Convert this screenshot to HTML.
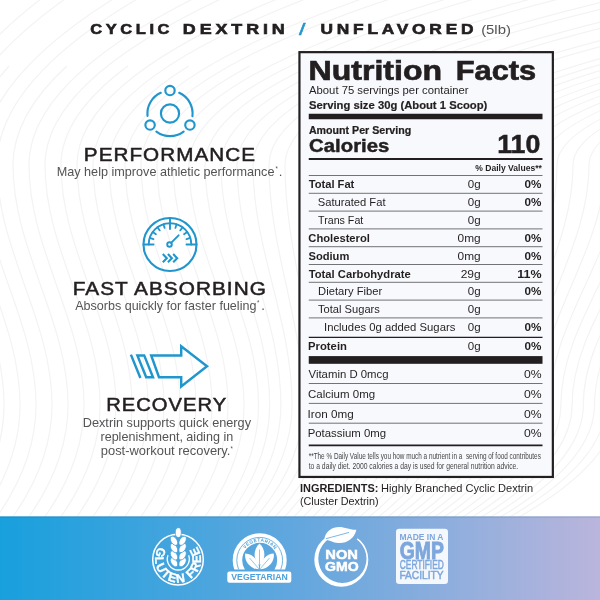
<!DOCTYPE html>
<html lang="en">
<head>
<meta charset="utf-8">
<title>Cyclic Dextrin / Unflavored (5lb)</title>
<style>
html,body{margin:0;padding:0;background:#fff;}
body{width:600px;height:600px;overflow:hidden;position:relative;font-family:"Liberation Sans",sans-serif;}
svg{position:absolute;left:0;top:0;display:block;}
text{font-family:"Liberation Sans",sans-serif;white-space:pre;}
</style>
</head>
<body>
<svg width="600" height="600" viewBox="0 0 600 600">
<defs>
<linearGradient id="band" x1="0" y1="0" x2="1" y2="0">
<stop offset="0" stop-color="#18a0dd"/>
<stop offset="0.5" stop-color="#63a7de"/>
<stop offset="1" stop-color="#bab5dc"/>
</linearGradient>
</defs>
<!-- background pattern -->
<g fill="none" stroke="#f3f3f4" stroke-width="1.2">
<path d="M-612.8 -16.5Q-643.0 74.2 -643.0 165C-643.0 250 -588.0 320 -588.0 405Q-588.0 465 -633.0 525"/>
<path d="M-596.8 -16.5Q-627.0 74.2 -627.0 165C-627.0 250 -572.0 320 -572.0 405Q-572.0 465 -617.0 525"/>
<path d="M-602.0 66.0Q-611.0 115.5 -611.0 165C-611.0 250 -556.0 320 -556.0 405Q-556.0 465 -601.0 525"/>
<path d="M-564.8 -16.5Q-595.0 74.2 -595.0 165C-595.0 250 -540.0 320 -540.0 405Q-540.0 465 -585.0 525"/>
<path d="M-548.8 -16.5Q-579.0 74.2 -579.0 165C-579.0 250 -524.0 320 -524.0 405Q-524.0 465 -569.0 525"/>
<path d="M-554.0 66.0Q-563.0 115.5 -563.0 165C-563.0 250 -508.0 320 -508.0 405Q-508.0 465 -553.0 525"/>
<path d="M-516.8 -16.5Q-547.0 74.2 -547.0 165C-547.0 250 -492.0 320 -492.0 405Q-492.0 465 -537.0 525"/>
<path d="M-500.8 -16.5Q-531.0 74.2 -531.0 165C-531.0 250 -476.0 320 -476.0 405Q-476.0 465 -521.0 525"/>
<path d="M-506.0 66.0Q-515.0 115.5 -515.0 165C-515.0 250 -460.0 320 -460.0 405Q-460.0 465 -505.0 525"/>
<path d="M-468.8 -16.5Q-499.0 74.2 -499.0 165C-499.0 250 -444.0 320 -444.0 405Q-444.0 465 -489.0 525"/>
<path d="M-452.8 -16.5Q-483.0 74.2 -483.0 165C-483.0 250 -428.0 320 -428.0 405Q-428.0 465 -473.0 525"/>
<path d="M-458.0 66.0Q-467.0 115.5 -467.0 165C-467.0 250 -412.0 320 -412.0 405Q-412.0 465 -457.0 525"/>
<path d="M-420.8 -16.5Q-451.0 74.2 -451.0 165C-451.0 250 -396.0 320 -396.0 405Q-396.0 465 -441.0 525"/>
<path d="M-404.8 -16.5Q-435.0 74.2 -435.0 165C-435.0 250 -380.0 320 -380.0 405Q-380.0 465 -425.0 525"/>
<path d="M-410.0 66.0Q-419.0 115.5 -419.0 165C-419.0 250 -364.0 320 -364.0 405Q-364.0 465 -409.0 525"/>
<path d="M-372.8 -16.5Q-403.0 74.2 -403.0 165C-403.0 250 -348.0 320 -348.0 405Q-348.0 465 -393.0 525"/>
<path d="M-356.8 -16.5Q-387.0 74.2 -387.0 165C-387.0 250 -332.0 320 -332.0 405Q-332.0 465 -377.0 525"/>
<path d="M-362.0 66.0Q-371.0 115.5 -371.0 165C-371.0 250 -316.0 320 -316.0 405Q-316.0 465 -361.0 525"/>
<path d="M-324.8 -16.5Q-355.0 74.2 -355.0 165C-355.0 250 -300.0 320 -300.0 405Q-300.0 465 -345.0 525"/>
<path d="M-308.8 -16.5Q-339.0 74.2 -339.0 165C-339.0 250 -284.0 320 -284.0 405Q-284.0 465 -329.0 525"/>
<path d="M-314.0 66.0Q-323.0 115.5 -323.0 165C-323.0 250 -268.0 320 -268.0 405Q-268.0 465 -313.0 525"/>
<path d="M-276.8 -16.5Q-307.0 74.2 -307.0 165C-307.0 250 -252.0 320 -252.0 405Q-252.0 465 -297.0 525"/>
<path d="M-260.8 -16.5Q-291.0 74.2 -291.0 165C-291.0 250 -236.0 320 -236.0 405Q-236.0 465 -281.0 525"/>
<path d="M-266.0 66.0Q-275.0 115.5 -275.0 165C-275.0 250 -220.0 320 -220.0 405Q-220.0 465 -265.0 525"/>
<path d="M-228.8 -16.5Q-259.0 74.2 -259.0 165C-259.0 250 -204.0 320 -204.0 405Q-204.0 465 -249.0 525"/>
<path d="M-212.8 -16.5Q-243.0 74.2 -243.0 165C-243.0 250 -188.0 320 -188.0 405Q-188.0 465 -233.0 525"/>
<path d="M-217.5 66.0Q-227.0 115.5 -227.0 165C-227.0 250 -172.0 320 -172.0 405Q-172.0 465 -217.0 525"/>
<path d="M-169.3 -16.5Q-211.0 74.2 -211.0 165C-211.0 250 -156.0 320 -156.0 405Q-156.0 465 -201.0 525"/>
<path d="M-143.6 -16.5Q-195.0 74.2 -195.0 165C-195.0 250 -140.0 320 -140.0 405Q-140.0 465 -185.0 525"/>
<path d="M-160.8 66.0Q-179.0 115.5 -179.0 165C-179.0 250 -124.0 320 -124.0 405Q-124.0 465 -169.0 525"/>
<path d="M-92.2 -16.5Q-163.0 74.2 -163.0 165C-163.0 250 -108.0 320 -108.0 405Q-108.0 465 -153.0 525"/>
<path d="M-66.5 -16.5Q-147.0 74.2 -147.0 165C-147.0 250 -92.0 320 -92.0 405Q-92.0 465 -137.0 525"/>
<path d="M-104.2 66.0Q-131.0 115.5 -131.0 165C-131.0 250 -76.0 320 -76.0 405Q-76.0 465 -121.0 525"/>
<path d="M-15.2 -16.5Q-115.0 74.2 -115.0 165C-115.0 250 -60.0 320 -60.0 405Q-60.0 465 -105.0 525"/>
<path d="M10.5 -16.5Q-99.0 74.2 -99.0 165C-99.0 250 -44.0 320 -44.0 405Q-44.0 465 -89.0 525"/>
<path d="M-47.5 66.0Q-83.0 115.5 -83.0 165C-83.0 250 -28.0 320 -28.0 405Q-28.0 465 -73.0 525"/>
<path d="M61.9 -16.5Q-67.0 74.2 -67.0 165C-67.0 250 -12.0 320 -12.0 405Q-12.0 465 -57.0 525"/>
<path d="M87.5 -16.5Q-51.0 74.2 -51.0 165C-51.0 250 4.0 320 4.0 405Q4.0 465 -41.0 525"/>
<path d="M9.1 66.0Q-35.0 115.5 -35.0 165C-35.0 250 20.0 320 20.0 405Q20.0 465 -25.0 525"/>
<path d="M138.9 -16.5Q-19.0 74.2 -19.0 165C-19.0 250 36.0 320 36.0 405Q36.0 465 -9.0 525"/>
<path d="M164.6 -16.5Q-3.0 74.2 -3.0 165C-3.0 250 52.0 320 52.0 405Q52.0 465 7.0 525"/>
<path d="M66.9 66.0Q13.0 115.5 13.0 165C13.0 250 68.0 320 68.0 405Q68.0 465 23.0 525"/>
<path d="M224.7 -16.5Q29.0 74.2 29.0 165C29.0 250 84.0 320 84.0 405Q84.0 465 39.0 525"/>
<path d="M255.2 -16.5Q45.0 74.2 45.0 165C45.0 250 100.0 320 100.0 405Q100.0 465 55.0 525"/>
<path d="M127.9 66.0Q61.0 115.5 61.0 165C61.0 250 116.0 320 116.0 405Q116.0 465 71.0 525"/>
<path d="M316.3 -16.5Q77.0 74.2 77.0 165C77.0 250 132.0 320 132.0 405Q132.0 465 87.0 525"/>
<path d="M346.8 -16.5Q93.0 74.2 93.0 165C93.0 250 148.0 320 148.0 405Q148.0 465 103.0 525"/>
<path d="M188.8 66.0Q109.0 115.5 109.0 165C109.0 250 164.0 320 164.0 405Q164.0 465 119.0 525"/>
<path d="M407.8 -16.5Q125.0 74.2 125.0 165C125.0 250 180.0 320 180.0 405Q180.0 465 135.0 525"/>
<path d="M438.4 -16.5Q141.0 74.2 141.0 165C141.0 250 196.0 320 196.0 405Q196.0 465 151.0 525"/>
<path d="M249.8 66.0Q157.0 115.5 157.0 165C157.0 250 212.0 320 212.0 405Q212.0 465 167.0 525"/>
<path d="M499.4 -16.5Q173.0 74.2 173.0 165C173.0 250 228.0 320 228.0 405Q228.0 465 183.0 525"/>
<path d="M529.9 -16.5Q189.0 74.2 189.0 165C189.0 250 244.0 320 244.0 405Q244.0 465 199.0 525"/>
<path d="M310.8 66.0Q205.0 115.5 205.0 165C205.0 250 258.5 320 258.5 405Q258.5 465 212.8 525"/>
<path d="M591.0 -16.5Q221.0 74.2 221.0 165C221.0 250 269.7 320 269.7 405Q269.7 465 222.0 525"/>
<path d="M621.5 -16.5Q237.0 74.2 237.0 165C237.0 250 280.9 320 280.9 405Q280.9 465 231.1 525"/>
<path d="M371.7 66.0Q253.0 115.5 253.0 165C253.0 250 292.1 320 292.1 405Q292.1 465 240.2 525"/>
<path d="M682.5 -16.5Q269.0 74.2 269.0 165C269.0 250 303.3 320 303.3 405Q303.3 465 249.3 525"/>
<path d="M713.0 -16.5Q285.0 74.2 285.0 165C285.0 250 314.5 320 314.5 405Q314.5 465 258.4 525"/>
<path d="M432.7 66.0Q301.0 115.5 301.0 165C301.0 250 325.7 320 325.7 405Q325.7 465 267.6 525"/>
<path d="M774.1 -16.5Q317.0 74.2 317.0 165C317.0 250 336.9 320 336.9 405Q336.9 465 276.7 525"/>
<path d="M804.6 -16.5Q333.0 74.2 333.0 165C333.0 250 348.1 320 348.1 405Q348.1 465 285.8 525"/>
<path d="M493.6 66.0Q349.0 115.5 349.0 165C349.0 250 359.3 320 359.3 405Q359.3 465 294.9 525"/>
<path d="M865.6 -16.5Q365.0 74.2 365.0 165C365.0 250 370.5 320 370.5 405Q370.5 465 304.1 525"/>
<path d="M896.2 -16.5Q381.0 74.2 381.0 165C381.0 250 381.7 320 381.7 405Q381.7 465 313.2 525"/>
<path d="M554.6 66.0Q397.0 115.5 397.0 165C397.0 250 392.9 320 392.9 405Q392.9 465 322.3 525"/>
<path d="M957.2 -16.5Q413.0 74.2 413.0 165C413.0 250 404.1 320 404.1 405Q404.1 465 331.4 525"/>
<path d="M987.7 -16.5Q429.0 74.2 429.0 165C429.0 250 415.3 320 415.3 405Q415.3 465 340.5 525"/>
<path d="M615.5 66.0Q445.0 115.5 445.0 165C445.0 250 426.5 320 426.5 405Q426.5 465 349.6 525"/>
<path d="M1048.8 -16.5Q461.0 74.2 461.0 165C461.0 250 437.7 320 437.7 405Q437.7 465 358.8 525"/>
<path d="M1079.3 -16.5Q477.0 74.2 477.0 165C477.0 250 448.9 320 448.9 405Q448.9 465 367.9 525"/>
<path d="M676.5 66.0Q493.0 115.5 493.0 165C493.0 250 460.1 320 460.1 405Q460.1 465 377.0 525"/>
<path d="M1140.3 -16.5Q509.0 74.2 509.0 165C509.0 250 471.3 320 471.3 405Q471.3 465 386.1 525"/>
<path d="M1170.8 -16.5Q525.0 74.2 525.0 165C525.0 250 482.5 320 482.5 405Q482.5 465 395.2 525"/>
<path d="M737.5 66.0Q541.0 115.5 541.0 165C541.0 250 493.7 320 493.7 405Q493.7 465 404.4 525"/>
<path d="M1231.9 -16.5Q557.0 74.2 557.0 165C557.0 250 504.9 320 504.9 405Q504.9 465 413.5 525"/>
<path d="M1262.4 -16.5Q573.0 74.2 573.0 165C573.0 250 516.1 320 516.1 405Q516.1 465 422.6 525"/>
<path d="M798.4 66.0Q589.0 115.5 589.0 165C589.0 250 527.3 320 527.3 405Q527.3 465 431.7 525"/>
<path d="M1323.4 -16.5Q605.0 74.2 605.0 165C605.0 250 538.5 320 538.5 405Q538.5 465 440.9 525"/>
<path d="M1354.0 -16.5Q621.0 74.2 621.0 165C621.0 250 549.7 320 549.7 405Q549.7 465 450.0 525"/>
<path d="M859.4 66.0Q637.0 115.5 637.0 165C637.0 250 560.9 320 560.9 405Q560.9 465 459.1 525"/>
<path d="M1415.0 -16.5Q653.0 74.2 653.0 165C653.0 250 572.1 320 572.1 405Q572.1 465 468.2 525"/>
<path d="M1445.5 -16.5Q669.0 74.2 669.0 165C669.0 250 583.3 320 583.3 405Q583.3 465 477.3 525"/>
<path d="M920.4 66.0Q685.0 115.5 685.0 165C685.0 250 594.5 320 594.5 405Q594.5 465 486.4 525"/>
<path d="M1506.6 -16.5Q701.0 74.2 701.0 165C701.0 250 605.7 320 605.7 405Q605.7 465 495.6 525"/>
<path d="M1537.1 -16.5Q717.0 74.2 717.0 165C717.0 250 616.9 320 616.9 405Q616.9 465 504.7 525"/>
</g>

<!-- bottom band -->
<rect x="0" y="516.4" width="600" height="84" fill="url(#band)"/>
<rect x="0" y="516.4" width="600" height="1.1" fill="#0a4f80" opacity="0.22"/>
<!-- nutrition panel -->
<rect x="299.45" y="52.15" width="253.4" height="424.8" fill="#f8f9fc" stroke="#231f20" stroke-width="2.2"/>
<g fill="#231f20">
<rect x="308.75" y="113.75" width="233.75" height="5.5"/>
<rect x="308.75" y="158" width="233.75" height="2"/>
<rect x="308.75" y="356.1" width="233.75" height="7.7"/>
<rect x="308.75" y="444.5" width="233.75" height="1.75"/>
</g>
<g stroke="#454547" stroke-width="0.75">
<path d="M308.75 175.5H542.5M308.75 193.3H542.5M308.75 211.1H542.5M308.75 228.9H542.5M308.75 246.7H542.5M308.75 264.5H542.5M308.75 282.3H542.5M308.75 300.1H542.5M308.75 317.9H542.5M308.75 383.5H542.5M308.75 403.4H542.5M308.75 423.2H542.5"/>
<path d="M308.75 337.4H542.5" stroke="#231f20" stroke-width="1.4"/>
</g>

<!-- icons -->
<g fill="none" stroke="#2096cd" stroke-width="2.15" stroke-linecap="round" stroke-linejoin="round">
<circle cx="170" cy="113.5" r="9.1"/>
<circle cx="170.00" cy="90.50" r="4.7"/>
<circle cx="189.92" cy="125.00" r="4.7"/>
<circle cx="150.08" cy="125.00" r="4.7"/>
<path d="M179.19 92.85A22.6 22.6 0 0 1 192.43 116.25M183.60 131.55A22.6 22.6 0 0 1 156.40 131.55M147.52 115.86A22.6 22.6 0 0 1 160.81 92.85"/>
</g>
<g fill="none" stroke="#2096cd" stroke-width="2.1" stroke-linecap="round" stroke-linejoin="round">
<circle cx="170" cy="244.5" r="26.5"/>
<path d="M148.7 244.5A21.3 21.3 0 0 1 191.3 244.5" stroke-width="1.9"/>
<path d="M143.5 244.5H153.5M186.5 244.5H196.5M170 218.0V229.0" stroke-width="1.9"/>
<path d="M149.74 237.92L153.45 239.12M152.77 231.98L155.92 234.27M157.48 227.27L159.77 230.42M163.42 224.24L164.62 227.95M176.58 224.24L175.38 227.95M182.52 227.27L180.23 230.42M187.23 231.98L184.08 234.27M190.26 237.92L186.55 239.12" stroke-width="1.8"/>
<circle cx="169.5" cy="244.5" r="2.3" stroke-width="1.9"/>
<path d="M171.30 242.70L178.60 235.30" stroke-width="1.9"/>
<path d="M162.8 254.1l4 4.1l-4 4.1M167.9 254.1l4 4.1l-4 4.1M173.2 254.1l4 4.1l-4 4.1" stroke-linejoin="miter" stroke-linecap="butt" stroke-width="2.1"/>
</g>
<g fill="none" stroke="#2096cd" stroke-width="2.45" stroke-linejoin="miter" stroke-linecap="butt">
<path d="M151.2 355.4H181.2V346.2L207 366.3L181.2 386.4V377.2H159Z"/>
<path d="M137.4 355.4H144.2L153 377.2H146.2Z"/>
<path d="M130.9 354.6L140.4 378"/>
</g>

<!-- badges -->
<g id="gluten">
<circle cx="178" cy="559.6" r="25.3" fill="none" stroke="#fff" stroke-width="1.5"/>
<path d="M167.96 555.24A11 11 0 1 0 188.64 555.24" fill="none" stroke="#fff" stroke-width="1.3"/>
<g fill="#fff" stroke="#3c9edb" stroke-width="0.7">
<ellipse cx="178.3" cy="532.6" rx="3" ry="4.9"/>
<ellipse cx="174.00" cy="562.2" rx="3.0" ry="5.1" transform="rotate(-33 174.00 562.2)"/>
<ellipse cx="182.60" cy="562.2" rx="3.0" ry="5.1" transform="rotate(33 182.60 562.2)"/>
<ellipse cx="174.00" cy="555.4" rx="3.0" ry="5.1" transform="rotate(-33 174.00 555.4)"/>
<ellipse cx="182.60" cy="555.4" rx="3.0" ry="5.1" transform="rotate(33 182.60 555.4)"/>
<ellipse cx="174.00" cy="548.1" rx="3.0" ry="5.1" transform="rotate(-33 174.00 548.1)"/>
<ellipse cx="182.60" cy="548.1" rx="3.0" ry="5.1" transform="rotate(33 182.60 548.1)"/>
<ellipse cx="174.00" cy="540.8" rx="3.0" ry="5.1" transform="rotate(-33 174.00 540.8)"/>
<ellipse cx="182.60" cy="540.8" rx="3.0" ry="5.1" transform="rotate(33 182.60 540.8)"/>
</g>
<path id="gfp" d="M159.02 546.79A22.9 22.9 0 1 0 196.98 546.79" fill="none"/>
<text font-size="12.4" font-weight="700" fill="#fff" stroke="#fff" stroke-width="0.35"><textPath href="#gfp" textLength="99.1" lengthAdjust="spacing">GLUTEN FREE</textPath></text>
</g>
<g id="veg">
<clipPath id="vclip"><rect x="225" y="525" width="70" height="44.6"/></clipPath>
<g clip-path="url(#vclip)">
<circle cx="259.7" cy="560.3" r="22.25" fill="none" stroke="#fff" stroke-width="9.5"/>
<circle cx="259.7" cy="560.3" r="22.9" fill="none" stroke="#4ba2dc" stroke-width="0.8"/>
<g fill="#fff">
<path d="M259.5 565.5C252.5 559.5 253.5 548.5 259.5 543.5C265.5 548.5 266.5 559.5 259.5 565.5Z"/>
<path d="M259.5 569.5C250.5 569.0 244.0 561.5 245.2 553.5C252.5 553.5 259.0 560.5 259.5 569.5Z"/>
<path d="M259.5 569.5C268.5 569.0 275.0 561.5 273.8 553.5C266.5 553.5 260.0 560.5 259.5 569.5Z"/>
</g>
<path d="M259.5 569.5V549.5M259.5 569.5L249.5 558.0M259.5 569.5L269.5 558.0" stroke="#4ba2dc" stroke-width="0.6" fill="none"/>
</g>
<rect x="227.3" y="571.5" width="64" height="11.3" rx="2.2" fill="#fff"/>
<path id="vgp" d="M245.04 548.85A18.6 18.6 0 0 1 274.36 548.85" fill="none"/>
<text font-size="4.6" font-weight="700" fill="#4ba2dc"><textPath href="#vgp" textLength="33.8" lengthAdjust="spacing">VEGETARIAN</textPath></text>
</g>
<g id="nongmo">
<mask id="ngm"><rect x="300" y="520" width="90" height="80" fill="#fff"/><path d="M341.3 559.7L344.3 519.7L367.3 525.7Z" fill="#000"/></mask>
<path mask="url(#ngm)" fill-rule="evenodd" fill="#fff" d="M314.3 559.7a27.0 27.0 0 1 0 54.0 0a27.0 27.0 0 1 0 -54.0 0ZM318.3 558.8000000000001a24.1 24.1 0 1 0 48.2 0a24.1 24.1 0 1 0 -48.2 0Z"/>
<path fill="#fff" d="M324.4 539.2C325.3 530.5 334 525.8 343 527.4C348 528.3 352 529.8 356.4 529.8C354.2 539 346.5 543.8 338 543C333 542.5 329.5 540.3 324.4 539.2Z"/>
<path fill="none" stroke="#5aa5dd" stroke-width="0.8" d="M326 538.7C333 536.7 341 534.7 349 532.4"/>
</g>
<g id="gmp">
<rect x="396" y="528.7" width="52" height="55.3" rx="3.2" fill="#f4f7fc"/>
</g>

<!-- text -->
<g>
<text transform="translate(90.24 33.70) scale(1.1936 1.0000)" font-size="13.8" font-weight="700" fill="#231f20" letter-spacing="3.0" stroke="#231f20" stroke-width="0.6">CYCLIC</text>
<text transform="translate(182.87 33.70) scale(1.2972 1.0000)" font-size="13.8" font-weight="700" fill="#231f20" letter-spacing="3.0" stroke="#231f20" stroke-width="0.6">DEXTRIN</text>
<text transform="translate(299.04 34.50) scale(1.3633 1.0000)" font-size="17.0" font-weight="400" fill="#2096cd" stroke="#2096cd" stroke-width="0.5">/</text>
<text transform="translate(320.56 33.70) scale(1.2557 1.0000)" font-size="13.8" font-weight="700" fill="#231f20" letter-spacing="3.0" stroke="#231f20" stroke-width="0.6">UNFLAVORED</text>
<text transform="translate(481.13 33.80) scale(1.1621 1.0000)" font-size="12.8" font-weight="400" fill="#545456">(5lb)</text>
<text transform="translate(83.87 161.10) scale(1.1372 1.0000)" font-size="18.2" font-weight="400" fill="#231f20" letter-spacing="0.9" stroke="#231f20" stroke-width="0.5">PERFORMANCE</text>
<text transform="translate(56.70 176.10) scale(0.9967 1.0000)" font-size="12.7" font-weight="400" fill="#545456">May help improve athletic performance</text>
<text transform="translate(275.51 171.30) scale(0.9362 1.0000)" font-size="6.5" font-weight="400" fill="#545456">*</text>
<text transform="translate(278.80 176.10) scale(1.0400 1.0000)" font-size="12.7" font-weight="400" fill="#545456">.</text>
<text transform="translate(72.66 294.60) scale(1.1430 1.0000)" font-size="18.2" font-weight="400" fill="#231f20" letter-spacing="0.9" stroke="#231f20" stroke-width="0.5">FAST ABSORBING</text>
<text transform="translate(75.20 309.70) scale(0.9884 1.0000)" font-size="12.7" font-weight="400" fill="#545456">Absorbs quickly for faster fueling</text>
<text transform="translate(257.11 305.40) scale(0.9362 1.0000)" font-size="6.5" font-weight="400" fill="#545456">*</text>
<text transform="translate(261.20 309.70) scale(1.0400 1.0000)" font-size="12.7" font-weight="400" fill="#545456">.</text>
<text transform="translate(106.20 410.80) scale(1.1098 1.0000)" font-size="18.2" font-weight="400" fill="#231f20" letter-spacing="0.9" stroke="#231f20" stroke-width="0.5">RECOVERY</text>
<text transform="translate(82.75 426.50) scale(1.0030 1.0000)" font-size="12.7" font-weight="400" fill="#545456">Dextrin supports quick energy</text>
<text transform="translate(100.46 440.90) scale(0.9904 1.0000)" font-size="12.7" font-weight="400" fill="#545456">replenishment, aiding in</text>
<text transform="translate(100.79 455.40) scale(1.0184 1.0000)" font-size="12.7" font-weight="400" fill="#545456">post-workout recovery.</text>
<text transform="translate(230.41 451.20) scale(0.9362 1.0000)" font-size="6.5" font-weight="400" fill="#545456">*</text>
<text transform="translate(308.60 80.00) scale(1.1657 1.0000)" font-size="27.5" font-weight="700" fill="#231f20" stroke="#231f20" stroke-width="0.7">Nutrition</text>
<text transform="translate(455.77 80.00) scale(1.1176 1.0000)" font-size="27.5" font-weight="700" fill="#231f20" stroke="#231f20" stroke-width="0.7">Facts</text>
<text transform="translate(309.00 94.25) scale(1.0562 1.0000)" font-size="10.7" font-weight="400" fill="#231f20">About 75 servings per container</text>
<text transform="translate(309.10 108.75) scale(1.0055 1.0000)" font-size="11.2" font-weight="700" fill="#231f20" stroke="#231f20" stroke-width="0.2">Serving size 30g (About 1 Scoop)</text>
<text transform="translate(308.88 133.70) scale(0.9516 1.0000)" font-size="11.2" font-weight="700" fill="#231f20" stroke="#231f20" stroke-width="0.25">Amount Per Serving</text>
<text transform="translate(309.12 152.20) scale(1.1546 1.0000)" font-size="17.6" font-weight="700" fill="#231f20" stroke="#231f20" stroke-width="0.45">Calories</text>
<text transform="translate(497.19 152.80) scale(1.0607 1.0000)" font-size="25.2" font-weight="700" fill="#231f20" stroke="#231f20" stroke-width="0.5">110</text>
<text transform="translate(475.30 170.75) scale(1.0199 1.0000)" font-size="8.4" font-weight="700" fill="#231f20">% Daily Values**</text>
<text transform="translate(308.65 188.00) scale(0.9977 1.0000)" font-size="11.2" font-weight="700" fill="#231f20">Total Fat</text>
<text transform="translate(467.84 188.00) scale(1.0326 1.0000)" font-size="11.2" font-weight="400" fill="#231f20">0g</text>
<text transform="translate(524.58 188.00) scale(1.0464 1.0000)" font-size="11.2" font-weight="700" fill="#231f20">0%</text>
<text transform="translate(317.75 205.75) scale(0.9993 1.0000)" font-size="11.2" font-weight="400" fill="#231f20">Saturated Fat</text>
<text transform="translate(467.84 205.75) scale(1.0326 1.0000)" font-size="11.2" font-weight="400" fill="#231f20">0g</text>
<text transform="translate(524.58 205.75) scale(1.0464 1.0000)" font-size="11.2" font-weight="700" fill="#231f20">0%</text>
<text transform="translate(318.01 223.75) scale(0.9535 1.0000)" font-size="11.2" font-weight="400" fill="#231f20">Trans Fat</text>
<text transform="translate(467.84 223.75) scale(1.0326 1.0000)" font-size="11.2" font-weight="400" fill="#231f20">0g</text>
<text transform="translate(308.30 241.75) scale(1.0017 1.0000)" font-size="11.2" font-weight="700" fill="#231f20">Cholesterol</text>
<text transform="translate(457.58 241.75) scale(1.0624 1.0000)" font-size="11.2" font-weight="400" fill="#231f20">0mg</text>
<text transform="translate(524.58 241.75) scale(1.0464 1.0000)" font-size="11.2" font-weight="700" fill="#231f20">0%</text>
<text transform="translate(308.45 259.50) scale(0.9974 1.0000)" font-size="11.2" font-weight="700" fill="#231f20">Sodium</text>
<text transform="translate(457.58 259.50) scale(1.0624 1.0000)" font-size="11.2" font-weight="400" fill="#231f20">0mg</text>
<text transform="translate(524.58 259.50) scale(1.0464 1.0000)" font-size="11.2" font-weight="700" fill="#231f20">0%</text>
<text transform="translate(308.65 277.50) scale(1.0037 1.0000)" font-size="11.2" font-weight="700" fill="#231f20">Total Carbohydrate</text>
<text transform="translate(460.66 277.50) scale(1.0740 1.0000)" font-size="11.2" font-weight="400" fill="#231f20">29g</text>
<text transform="translate(517.22 277.50) scale(1.1157 1.0000)" font-size="11.2" font-weight="700" fill="#231f20">11%</text>
<text transform="translate(318.10 295.00) scale(0.9996 1.0000)" font-size="11.2" font-weight="400" fill="#231f20">Dietary Fiber</text>
<text transform="translate(467.84 295.00) scale(1.0326 1.0000)" font-size="11.2" font-weight="400" fill="#231f20">0g</text>
<text transform="translate(524.58 295.00) scale(1.0464 1.0000)" font-size="11.2" font-weight="700" fill="#231f20">0%</text>
<text transform="translate(318.00 313.00) scale(0.9942 1.0000)" font-size="11.2" font-weight="400" fill="#231f20">Total Sugars</text>
<text transform="translate(467.84 313.00) scale(1.0326 1.0000)" font-size="11.2" font-weight="400" fill="#231f20">0g</text>
<text transform="translate(323.99 331.25) scale(1.0098 1.0000)" font-size="11.2" font-weight="400" fill="#231f20">Includes 0g added Sugars</text>
<text transform="translate(467.84 331.25) scale(1.0326 1.0000)" font-size="11.2" font-weight="400" fill="#231f20">0g</text>
<text transform="translate(524.58 331.25) scale(1.0464 1.0000)" font-size="11.2" font-weight="700" fill="#231f20">0%</text>
<text transform="translate(308.04 350.00) scale(1.0083 1.0000)" font-size="11.2" font-weight="700" fill="#231f20">Protein</text>
<text transform="translate(467.84 350.00) scale(1.0326 1.0000)" font-size="11.2" font-weight="400" fill="#231f20">0g</text>
<text transform="translate(524.58 350.00) scale(1.0464 1.0000)" font-size="11.2" font-weight="700" fill="#231f20">0%</text>
<text transform="translate(308.55 378.00) scale(0.9647 1.0000)" font-size="11.8" font-weight="400" fill="#231f20">Vitamin D 0mcg</text>
<text transform="translate(524.04 378.00) scale(1.0331 1.0000)" font-size="11.8" font-weight="400" fill="#231f20">0%</text>
<text transform="translate(308.06 397.50) scale(0.9750 1.0000)" font-size="11.8" font-weight="400" fill="#231f20">Calcium 0mg</text>
<text transform="translate(524.04 397.50) scale(1.0331 1.0000)" font-size="11.8" font-weight="400" fill="#231f20">0%</text>
<text transform="translate(307.56 417.50) scale(0.9910 1.0000)" font-size="11.8" font-weight="400" fill="#231f20">Iron 0mg</text>
<text transform="translate(524.04 417.50) scale(1.0331 1.0000)" font-size="11.8" font-weight="400" fill="#231f20">0%</text>
<text transform="translate(307.68 436.75) scale(0.9654 1.0000)" font-size="11.8" font-weight="400" fill="#231f20">Potassium 0mg</text>
<text transform="translate(524.04 436.75) scale(1.0331 1.0000)" font-size="11.8" font-weight="400" fill="#231f20">0%</text>
<text transform="translate(308.68 459.20) scale(0.7025 1.0000)" font-size="9.1" font-weight="400" fill="#454547">**The % Daily Value tells you how much a nutrient in a  serving of food contributes</text>
<text transform="translate(308.68 469.30) scale(0.7464 1.0000)" font-size="9.1" font-weight="400" fill="#454547">to a daily diet. 2000 calories a day is used for general nutrition advice.</text>
<text transform="translate(299.99 491.75) scale(1.0957 1.0000)" font-size="10" font-weight="700" fill="#231f20">INGREDIENTS:</text>
<text transform="translate(381.11 491.75) scale(1.1078 1.0000)" font-size="10" font-weight="400" fill="#231f20">Highly Branched Cyclic Dextrin</text>
<text transform="translate(299.95 505.00) scale(1.0809 1.0000)" font-size="10" font-weight="400" fill="#231f20">(Cluster Dextrin)</text>
<text transform="translate(231.25 580.00) scale(1.0043 1.0000)" font-size="8.7" font-weight="700" fill="#4ba2dc">VEGETARIAN</text>
<text transform="translate(325.36 558.70) scale(1.1657 1.0000)" font-size="12.6" font-weight="700" fill="#fff" stroke="#fff" stroke-width="0.5">NON</text>
<text transform="translate(325.02 571.30) scale(1.1184 1.0000)" font-size="12.6" font-weight="700" fill="#fff" stroke="#fff" stroke-width="0.5">GMO</text>
<text transform="translate(399.46 540.00) scale(0.8955 1.0000)" font-size="9.5" font-weight="700" fill="#7da7dc">MADE IN A</text>
<text transform="translate(399.76 558.70) scale(0.7999 1.0000)" font-size="24.2" font-weight="700" fill="#7da7dc" stroke="#7da7dc" stroke-width="0.9">GMP</text>
<text transform="translate(399.76 569.30) scale(0.6716 1.0000)" font-size="12.5" font-weight="400" fill="#7da7dc" stroke="#7da7dc" stroke-width="0.5">CERTIFIED</text>
<text transform="translate(399.38 579.30) scale(0.8812 1.0000)" font-size="11.6" font-weight="400" fill="#7da7dc" stroke="#7da7dc" stroke-width="0.5">FACILITY</text>
</g>
</svg>
</body>
</html>
